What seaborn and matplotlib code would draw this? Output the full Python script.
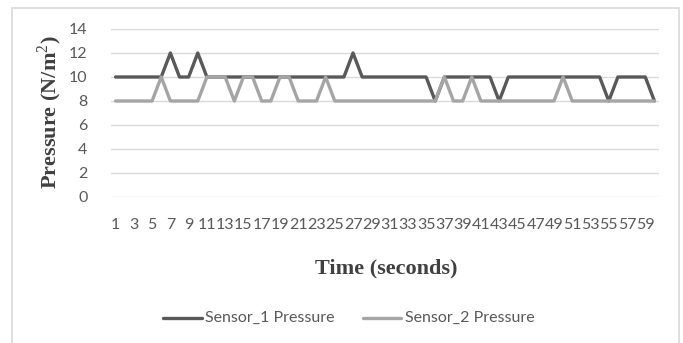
import matplotlib
matplotlib.use("Agg")
import matplotlib.pyplot as plt
from matplotlib.patches import Rectangle
import numpy as np
import pandas as pd
import seaborn as sns

# Time steps (seconds) and pressure readings from the two sensors
time_s = list(range(1, 61))
sensor_1 = [10, 10, 10, 10, 10, 10, 12, 10, 10, 12,
            10, 10, 10, 10, 10, 10, 10, 10, 10, 10,
            10, 10, 10, 10, 10, 10, 12, 10, 10, 10,
            10, 10, 10, 10, 10, 8, 10, 10, 10, 10,
            10, 10, 8, 10, 10, 10, 10, 10, 10, 10,
            10, 10, 10, 10, 8, 10, 10, 10, 10, 8]
sensor_2 = [8, 8, 8, 8, 8, 10, 8, 8, 8, 8,
            10, 10, 10, 8, 10, 10, 8, 8, 10, 10,
            8, 8, 8, 10, 8, 8, 8, 8, 8, 8,
            8, 8, 8, 8, 8, 8, 10, 8, 8, 10,
            8, 8, 8, 8, 8, 8, 8, 8, 8, 10,
            8, 8, 8, 8, 8, 8, 8, 8, 8, 8]
series_names = ["Sensor_1 Pressure", "Sensor_2 Pressure"]
y_ticks = [0, 2, 4, 6, 8, 10, 12, 14]

df = pd.DataFrame({
    "pos": np.tile(np.arange(len(time_s)), 2),
    "pressure": sensor_1 + sensor_2,
    "series": [series_names[0]] * len(time_s) + [series_names[1]] * len(time_s),
})

sns.set_theme(style="white")
plt.rcParams["font.family"] = ["Lato", "DejaVu Sans"]
plt.rcParams["mathtext.fontset"] = "custom"
plt.rcParams["mathtext.rm"] = "Liberation Serif"
plt.rcParams["mathtext.bf"] = "Liberation Serif:bold"

W, H = 683, 343
fig = plt.figure(figsize=(W / 100, H / 100), dpi=100)
ax = fig.add_axes([111 / W, 1 - 197 / H, (659 - 111) / W, (197 - 29) / H])

palette = {series_names[0]: "#595959", series_names[1]: "#A5A5A5"}
sns.lineplot(data=df, x="pos", y="pressure", hue="series", palette=palette,
             linewidth=2.4, ax=ax, legend=False)

ax.set_xlim(-0.5, len(time_s) - 0.5)
ax.set_ylim(0, 14)
ax.set_yticks(y_ticks)
ax.set_yticklabels([str(v) for v in y_ticks])
ax.set_xticks(np.arange(0, len(time_s), 2))
ax.set_xticklabels([str(t) for t in time_s[::2]])
ax.grid(axis="y", color="#D9D9D9", linewidth=1)
ax.set_axisbelow(True)
for s in ax.spines.values():
    s.set_visible(False)
ax.tick_params(axis="both", length=0, labelsize=11.5, labelcolor="#595959")
ax.tick_params(axis="y", pad=17)
ax.tick_params(axis="x", pad=15)
ax.set_xlabel("")
ax.set_ylabel("")

serif_bold = dict(family="Liberation Serif", fontweight="bold", fontsize=16, color="#404040")
fig.text(50 / W, 1 - 112 / H, "Pressure (N/m$^\\mathrm{2}$)", rotation=90,
         ha="center", va="center", **serif_bold)
fig.text(386 / W, 1 - 268 / H, "Time (seconds)", ha="center", va="center", **serif_bold)

# Legend below the axes
for x0, x1, tx, name in [(163, 202, 205, series_names[0]), (363, 401, 405, series_names[1])]:
    fig.add_artist(plt.Line2D([x0 / W, x1 / W], [1 - 318 / H] * 2,
                              color=palette[name], linewidth=2.4))
    fig.text(tx / W, 1 - 318 / H, name, ha="left", va="center",
             fontsize=11.5, color="#595959")

# Chart frame
fig.add_artist(Rectangle((12 / W, -0.05), (679 - 12) / W, 1 - 8 / H + 0.05,
                         transform=fig.transFigure, fill=False,
                         edgecolor="#D9D9D9", linewidth=1.2))

fig.savefig("out.png", dpi=100)
